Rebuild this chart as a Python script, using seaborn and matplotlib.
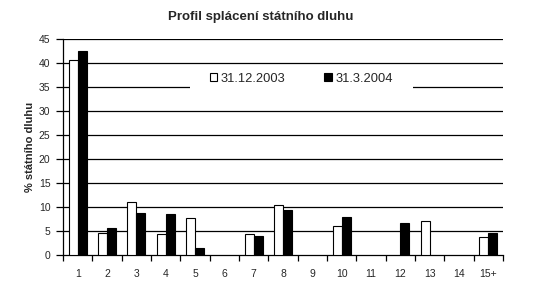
import numpy as np
import pandas as pd
import matplotlib
matplotlib.use("Agg")
import matplotlib.pyplot as plt
import seaborn as sns
from matplotlib.patches import Patch, Rectangle

categories = ["1", "2", "3", "4", "5", "6", "7", "8", "9", "10", "11", "12", "13", "14", "15+"]
series_names = ["31.12.2003", "31.3.2004"]
values_2003 = [40.7, 4.6, 11.0, 4.4, 7.7, np.nan, 4.4, 10.4, np.nan, 6.0, np.nan, np.nan, 7.1, np.nan, 3.75]
values_2004 = [42.4, 5.7, 8.8, 8.6, 1.5, np.nan, 4.0, 9.4, np.nan, 8.0, np.nan, 6.7, np.nan, np.nan, 4.6]
yticks = [0, 5, 10, 15, 20, 25, 30, 35, 40, 45]

rows = []
for c, v in zip(categories, values_2003):
    rows.append((c, series_names[0], v))
for c, v in zip(categories, values_2004):
    rows.append((c, series_names[1], v))
df = pd.DataFrame(rows, columns=["cat", "series", "val"]).dropna()

sns.set_style("white")
plt.rcParams["font.family"] = ["Liberation Sans", "DejaVu Sans"]

fig = plt.figure(figsize=(5.45, 2.88), dpi=100)
ax = fig.add_axes([63/545, 1-255/288, 440/545, 216/288])

sns.barplot(data=df, x="cat", y="val", hue="series", order=categories,
            hue_order=series_names, palette=["white", "black"],
            edgecolor="black", linewidth=0.8, width=0.62, errorbar=None,
            ax=ax, legend=False, zorder=3)

ax.set_xlim(-0.5, len(categories) - 0.5)
ax.set_ylim(0, 45)
ax.set_yticks(yticks)
ax.set_yticklabels([str(t) for t in yticks], fontsize=7.5)
for t in yticks[1:]:
    ax.axhline(t, color="black", linewidth=0.9, zorder=1)

ax.set_xticks(range(len(categories)))
ax.set_xticklabels(categories, fontsize=7.5)
ax.tick_params(axis="x", which="major", length=0, pad=10)
ax.set_xticks(np.arange(-0.5, len(categories), 1.0), minor=True)
ax.tick_params(axis="x", which="minor", length=4, width=0.9, color="black", direction="out")
ax.tick_params(axis="y", length=5, width=0.9, color="black", direction="out", pad=4)
ax.tick_params(which="both", bottom=True, left=True)

for s in ["top", "right"]:
    ax.spines[s].set_visible(False)
for s in ["left", "bottom"]:
    ax.spines[s].set_color("black")
    ax.spines[s].set_linewidth(0.9)

ax.set_xlabel("")
ax.set_ylabel("% státního dluhu", fontsize=8, fontweight="bold")
ax.yaxis.set_label_coords(-0.064, 0.5)
fig.text(261/545, 1-17/288, "Profil splácení státního dluhu", fontsize=9.5,
         fontweight="bold", ha="center", va="center")

# white background of the legend area
ax.add_patch(Rectangle((0.2886, 0.755), 0.5068, 0.12, transform=ax.transAxes,
                       facecolor="white", edgecolor="none", zorder=4))

handles = [Patch(facecolor="white", edgecolor="black", linewidth=0.8),
           Patch(facecolor="black", edgecolor="black", linewidth=0.8)]
leg = ax.legend(handles, series_names, ncol=2, loc="center left", bbox_to_anchor=(0.334, 0.815),
                frameon=False, fontsize=9.3, handlelength=0.55, handleheight=0.55,
                handletextpad=0.3, columnspacing=3.0, borderpad=0, borderaxespad=0)
leg.set_zorder(5)

fig.savefig("out.png", dpi=100, facecolor="white")
